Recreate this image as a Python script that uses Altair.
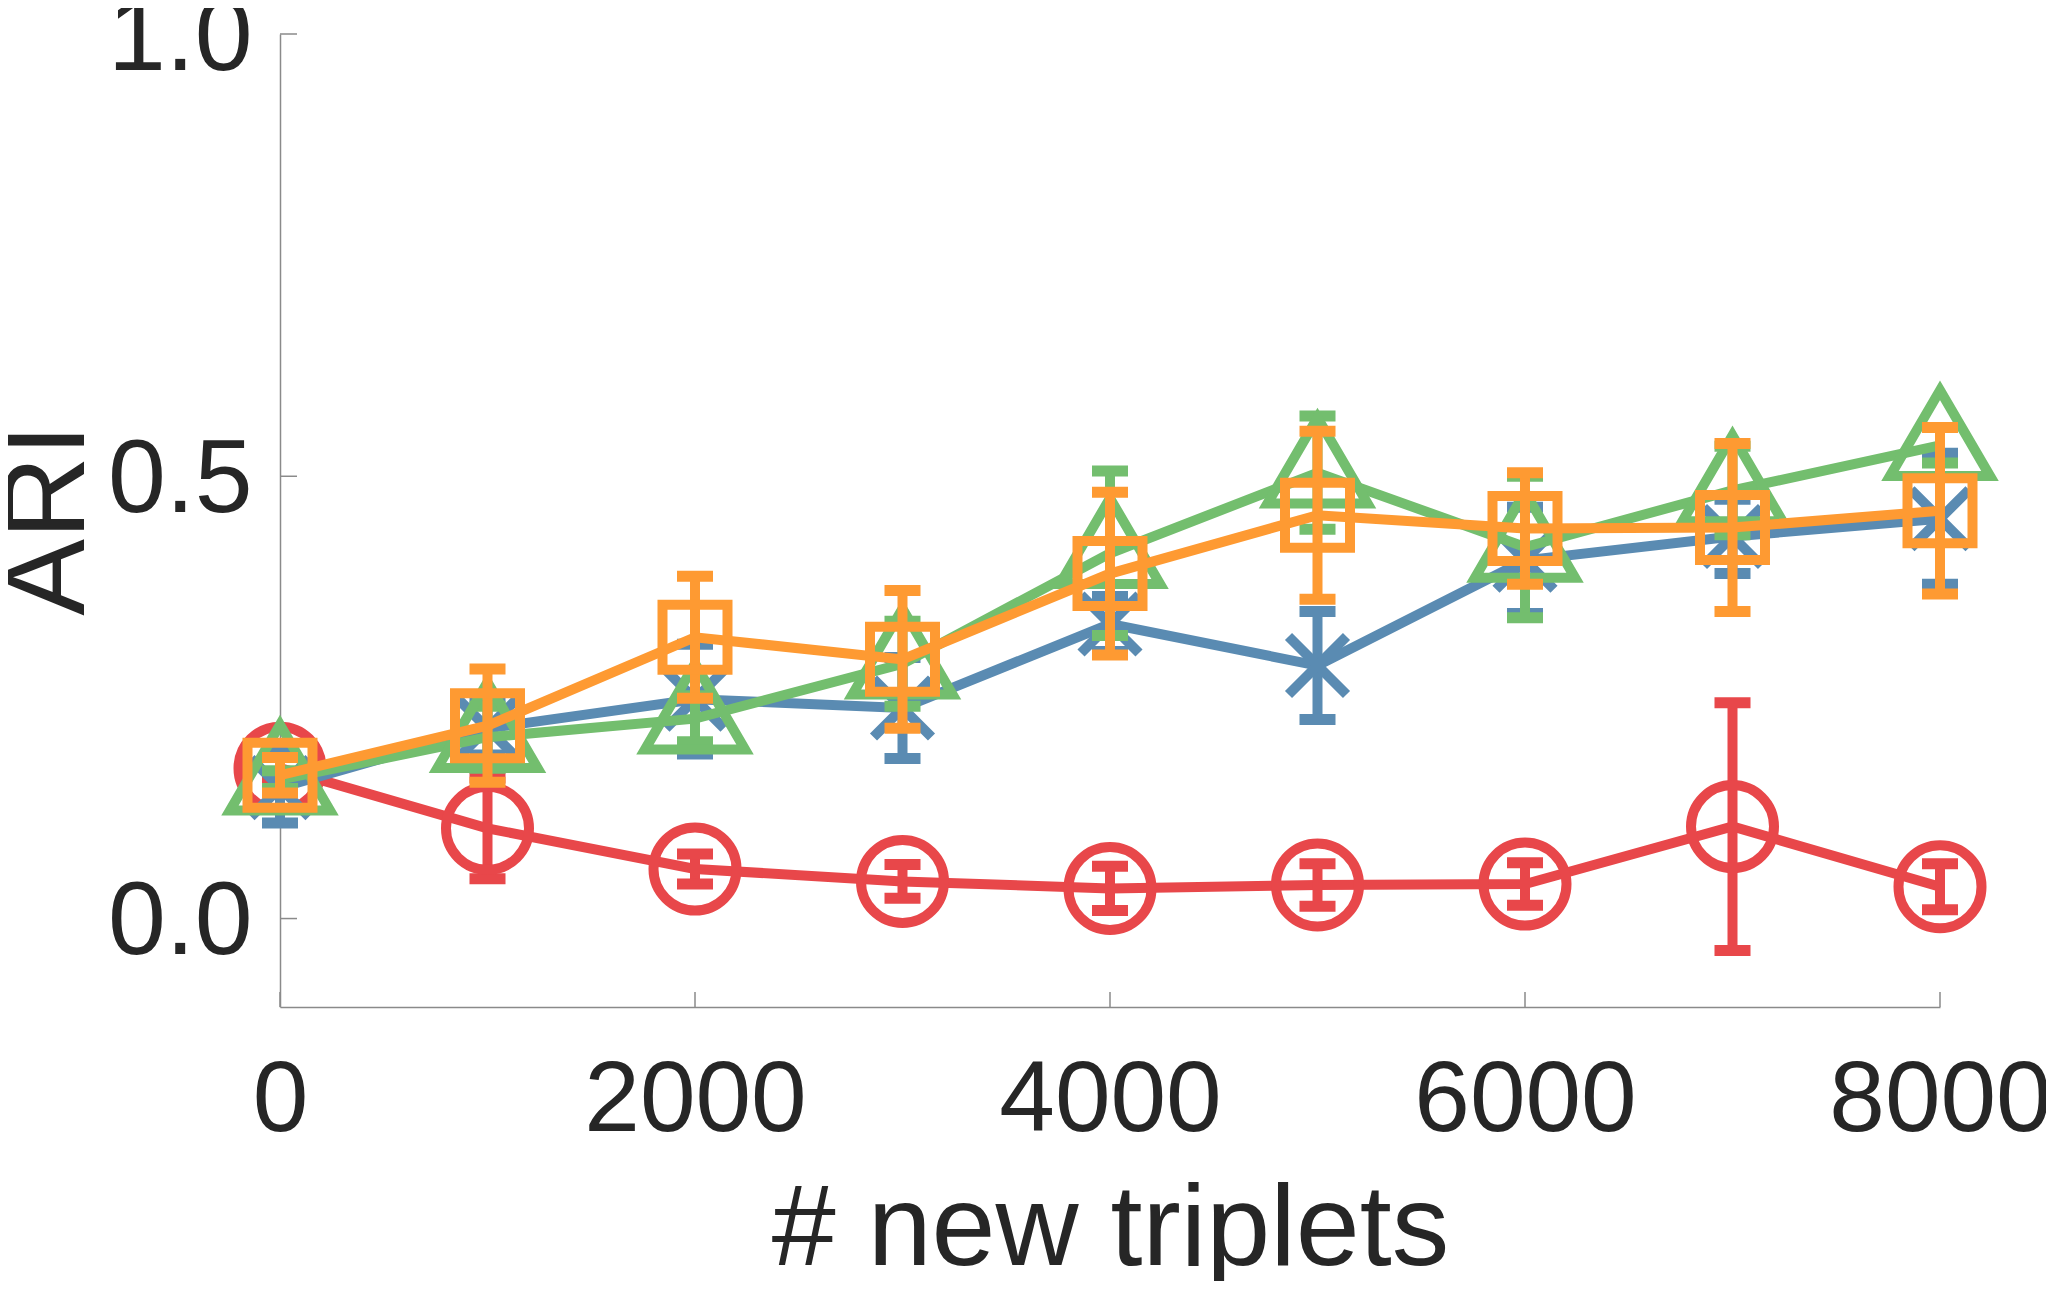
import altair as alt
import pandas as pd

# ---------------- data ----------------
x_vals = [0, 1000, 2000, 3000, 4000, 5000, 6000, 7000, 8000]

red_mean = [0.170, 0.102, 0.056, 0.042, 0.034, 0.038, 0.039, 0.104, 0.036]
red_err = [0.012, 0.057, 0.017, 0.019, 0.025, 0.024, 0.024, 0.140, 0.026]

blue_mean = [0.148, 0.215, 0.248, 0.238, 0.333, 0.286, 0.405, 0.432, 0.452]
blue_err = [0.040, 0.030, 0.062, 0.057, 0.031, 0.061, 0.060, 0.042, 0.074]

green_mean = [0.157, 0.205, 0.226, 0.288, 0.413, 0.504, 0.420, 0.484, 0.535]
green_err = [0.010, 0.035, 0.026, 0.048, 0.093, 0.064, 0.080, 0.050, 0.020]

orange_mean = [0.162, 0.218, 0.318, 0.293, 0.390, 0.456, 0.441, 0.442, 0.461]
orange_err = [0.020, 0.064, 0.069, 0.078, 0.092, 0.095, 0.063, 0.095, 0.094]

x_tick_values = [0, 2000, 4000, 6000, 8000]
y_tick_values = [0.0, 0.5, 1.0]

# ---------------- styling ----------------
FONT = "Liberation Sans"
TEXT = "#262626"
AXIS_GRAY = "#8a8a8a"
W, H = 1660, 973

series = [
    ("red", red_mean, red_err, "#E8474A", "circle", 6889),
    ("blue", blue_mean, blue_err, "#5A8BB2", "M-1,-1L1,1M-1,1L1,-1", 3364),
    ("green", green_mean, green_err, "#73BE6E", "M0,-1L0.91,0.56L-0.91,0.56Z", 12100),
    ("orange", orange_mean, orange_err, "#FE9A32", "square", 4225),
]

xscale = alt.Scale(domain=[0, 8000], nice=False, zero=False)
yscale = alt.Scale(domain=[-0.1, 1.0], nice=False, zero=False)

xaxis = alt.Axis(
    values=x_tick_values, format="d", ticks=False, grid=False,
    domainColor=AXIS_GRAY, domainWidth=1.5,
    labelFont=FONT, labelFontSize=100, labelColor=TEXT, labelPadding=44,
    labelFlush=False, labelOverlap=False, labelLimit=1000,
    titleFont=FONT, titleFontSize=115, titleColor=TEXT, titleFontWeight="normal",
    titleX=W / 2, titleY=257, titleBaseline="alphabetic", titleAlign="center",
    titleLimit=2000,
)
yaxis = alt.Axis(
    values=y_tick_values, format=".1f", ticks=False, grid=False,
    domainColor=AXIS_GRAY, domainWidth=1.5,
    labelFont=FONT, labelFontSize=104, labelColor=TEXT, labelPadding=28,
    labelOffset=4, labelFlush=False, labelOverlap=False, labelLimit=1000,
    titleFont=FONT, titleFontSize=115, titleColor=TEXT, titleFontWeight="normal",
    titleX=-197, titleY=(H) / 2 - 1, titleBaseline="alphabetic", titleAlign="center",
    titleAngle=270, titleLimit=2000,
)


def X(field="x"):
    return alt.X(f"{field}:Q", scale=xscale, axis=xaxis, title="# new triplets")


def Y(field="y"):
    return alt.Y(f"{field}:Q", scale=yscale, axis=yaxis, title="ARI")


layers = []

# inward tick marks
ytick_df = pd.DataFrame({"y": y_tick_values})
xtick_df = pd.DataFrame({"x": x_tick_values})
layers.append(
    alt.Chart(ytick_df).mark_rule(color=AXIS_GRAY, strokeWidth=1.5).encode(
        y=Y("y"), x=alt.value(0), x2=alt.value(17)
    )
)
layers.append(
    alt.Chart(xtick_df).mark_rule(color=AXIS_GRAY, strokeWidth=1.5).encode(
        x=X("x"), y=alt.value(H), y2=alt.value(H - 15)
    )
)

for name, mean, err, color, shape, size in series:
    df = pd.DataFrame({
        "x": x_vals,
        "y": mean,
        "lo": [m - e for m, e in zip(mean, err)],
        "hi": [m + e for m, e in zip(mean, err)],
    })
    base = alt.Chart(df)
    layers.append(base.mark_line(color=color, strokeWidth=10).encode(x=X(), y=Y()))
    layers.append(base.mark_rule(color=color, strokeWidth=10).encode(
        x=X(), y=Y("lo"), y2="hi:Q"))
    layers.append(base.mark_tick(color=color, orient="horizontal", size=36,
                                 thickness=11, opacity=1).encode(x=X(), y=Y("lo")))
    layers.append(base.mark_tick(color=color, orient="horizontal", size=36,
                                 thickness=11, opacity=1).encode(x=X(), y=Y("hi")))
    layers.append(base.mark_point(shape=shape, size=size, filled=False, opacity=1,
                                  color=color, strokeWidth=10).encode(x=X(), y=Y()))

chart = alt.layer(*layers).properties(
    width=W, height=H,
    autosize=alt.AutoSizeParams(type="none"),
    padding={"left": 272, "top": 26, "right": 106, "bottom": 274},
    view=alt.ViewBackground(stroke="transparent", strokeWidth=0),
).configure_view(stroke="transparent", strokeWidth=0).configure(
    background="white", style={"cell": {"stroke": "transparent", "strokeWidth": 0}}
)

chart.save("out.html", embed_options={"renderer": "svg", "actions": False})
